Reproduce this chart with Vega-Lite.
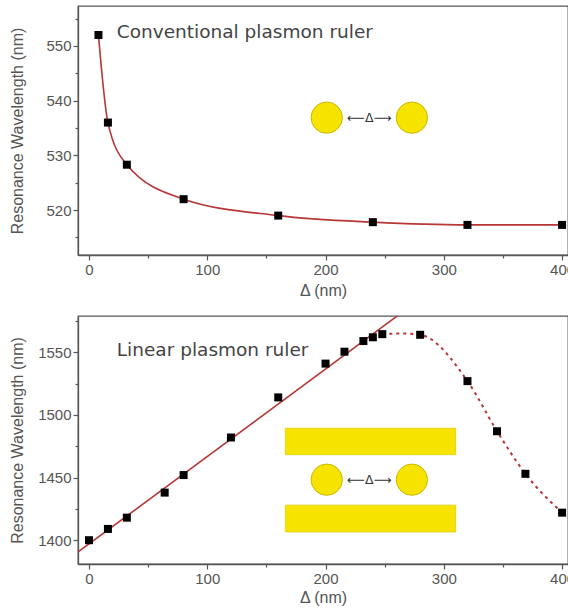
{
  "$schema": "https://vega.github.io/schema/vega-lite/v6.json",
  "padding": {"left": 8, "top": 5, "right": 0, "bottom": 0},
  "spacing": 14,
  "config": {
    "view": {"stroke": "#555", "strokeWidth": 1.3},
    "axis": {
      "labelFont": "Liberation Sans", "labelFontSize": 15, "labelColor": "#555",
      "titleFont": "Liberation Sans", "titleFontSize": 16, "titleColor": "#555", "titleFontWeight": "normal",
      "domainColor": "#555", "domainWidth": 1.3, "tickColor": "#555", "tickWidth": 1.2,
      "grid": false, "labelPadding": 2, "labelOverlap": false, "format": "d", "tickCount": 30
    }
  },
  "datasets": {
    "top": [
      {"d": 8, "w": 552}, {"d": 16, "w": 536}, {"d": 32, "w": 528.3}, {"d": 80, "w": 522},
      {"d": 160, "w": 519}, {"d": 240, "w": 517.8}, {"d": 320, "w": 517.3}, {"d": 400, "w": 517.3}
    ],
    "bottom": [
      {"d": 0, "w": 1400}, {"d": 16, "w": 1409}, {"d": 32, "w": 1418}, {"d": 64, "w": 1438},
      {"d": 80, "w": 1452}, {"d": 120, "w": 1482}, {"d": 160, "w": 1514}, {"d": 200, "w": 1541},
      {"d": 216, "w": 1550.5}, {"d": 232, "w": 1559}, {"d": 240, "w": 1562}, {"d": 248, "w": 1564.5},
      {"d": 280, "w": 1564}, {"d": 320, "w": 1527}, {"d": 345, "w": 1487}, {"d": 369, "w": 1453},
      {"d": 400, "w": 1422}
    ],
    "linfit": [{"d": -10, "w": 1390}, {"d": 262, "w": 1580}],
    "dashfit": [
      {"d": 248, "w": 1564.5}, {"d": 265, "w": 1565}, {"d": 280, "w": 1564}, {"d": 320, "w": 1527},
      {"d": 345, "w": 1487}, {"d": 369, "w": 1453}, {"d": 400, "w": 1422}
    ],
    "circTop": [{"d": 201, "w": 536.9}, {"d": 273, "w": 536.9}],
    "circBot": [{"d": 201, "w": 1448.3}, {"d": 273, "w": 1448.3}],
    "rects": [{"x1": 166, "x2": 310, "y1": 1468.3, "y2": 1489.4}, {"x1": 166, "x2": 310, "y1": 1406.6, "y2": 1428}]
  },
  "vconcat": [
    {
      "width": 490, "height": 249,
      "layer": [
        {
          "data": {"name": "top"},
          "mark": {"type": "line", "interpolate": "monotone", "color": "#b83636", "strokeWidth": 1.6, "clip": true},
          "encoding": {
            "x": {"field": "d", "type": "quantitative", "scale": {"domain": [-9.3, 405], "nice": false, "zero": false},
              "axis": {"title": "Δ (nm)", "values": [0, 50, 100, 150, 200, 250, 300, 350, 400],
                "labelExpr": "datum.value % 100 === 0 ? datum.label : ''",
                "tickSize": {"condition": {"test": "datum.value % 100 === 0", "value": 5}, "value": 3}, "titlePadding": 5}},
            "y": {"field": "w", "type": "quantitative", "scale": {"domain": [511.8, 557.3], "nice": false, "zero": false},
              "axis": {"title": "Resonance Wavelength (nm)", "values": [515, 520, 525, 530, 535, 540, 545, 550, 555],
                "labelExpr": "datum.value % 10 === 0 ? datum.label : ''",
                "tickSize": {"condition": {"test": "datum.value % 10 === 0", "value": 5}, "value": 3}, "titlePadding": 20}}
          }
        },
        {
          "data": {"name": "top"},
          "mark": {"type": "point", "shape": "square", "filled": true, "color": "#000", "size": 64, "opacity": 1},
          "encoding": {"x": {"field": "d", "type": "quantitative"}, "y": {"field": "w", "type": "quantitative"}}
        },
        {
          "data": {"name": "circTop"},
          "mark": {"type": "point", "shape": "circle", "filled": true, "fill": "#f6e400", "stroke": "#c9b800", "strokeWidth": 1, "size": 980, "opacity": 1},
          "encoding": {"x": {"field": "d", "type": "quantitative"}, "y": {"field": "w", "type": "quantitative"}}
        },
        {
          "data": {"values": [{"d": 237, "w": 536.9, "t": "⟵Δ⟶"}]},
          "mark": {"type": "text", "font": "DejaVu Sans", "fontSize": 12.5, "color": "#333"},
          "encoding": {"x": {"field": "d", "type": "quantitative"}, "y": {"field": "w", "type": "quantitative"}, "text": {"field": "t"}}
        },
        {
          "data": {"values": [{"d": 23.5, "w": 552.6, "t": "Conventional plasmon ruler"}]},
          "mark": {"type": "text", "font": "DejaVu Sans", "fontSize": 18.5, "color": "#444", "align": "left", "baseline": "middle"},
          "encoding": {"x": {"field": "d", "type": "quantitative"}, "y": {"field": "w", "type": "quantitative"}, "text": {"field": "t"}}
        }
      ]
    },
    {
      "width": 490, "height": 248,
      "layer": [
        {
          "data": {"name": "rects"},
          "mark": {"type": "rect", "fill": "#f6e400", "stroke": "#e0cf00", "strokeWidth": 0.8},
          "encoding": {
            "x": {"field": "x1", "type": "quantitative", "scale": {"domain": [-9.3, 405], "nice": false, "zero": false},
              "axis": {"title": "Δ (nm)", "values": [0, 50, 100, 150, 200, 250, 300, 350, 400],
                "labelExpr": "datum.value % 100 === 0 ? datum.label : ''",
                "tickSize": {"condition": {"test": "datum.value % 100 === 0", "value": 5}, "value": 3}, "titlePadding": 3}},
            "x2": {"field": "x2"},
            "y": {"field": "y1", "type": "quantitative", "scale": {"domain": [1381, 1579], "nice": false, "zero": false},
              "axis": {"title": "Resonance Wavelength (nm)", "values": [1400, 1425, 1450, 1475, 1500, 1525, 1550, 1575],
                "labelExpr": "datum.value % 50 === 0 ? datum.label : ''",
                "tickSize": {"condition": {"test": "datum.value % 50 === 0", "value": 5}, "value": 3}, "titlePadding": 12}},
            "y2": {"field": "y2"}
          }
        },
        {
          "data": {"name": "linfit"},
          "mark": {"type": "line", "color": "#b83636", "strokeWidth": 1.6, "clip": true},
          "encoding": {"x": {"field": "d", "type": "quantitative"}, "y": {"field": "w", "type": "quantitative"}}
        },
        {
          "data": {"name": "dashfit"},
          "mark": {"type": "line", "interpolate": "monotone", "color": "#b83636", "strokeWidth": 2, "strokeDash": [3, 4], "clip": true},
          "encoding": {"x": {"field": "d", "type": "quantitative"}, "y": {"field": "w", "type": "quantitative"}}
        },
        {
          "data": {"name": "bottom"},
          "mark": {"type": "point", "shape": "square", "filled": true, "color": "#000", "size": 64, "opacity": 1},
          "encoding": {"x": {"field": "d", "type": "quantitative"}, "y": {"field": "w", "type": "quantitative"}}
        },
        {
          "data": {"name": "circBot"},
          "mark": {"type": "point", "shape": "circle", "filled": true, "fill": "#f6e400", "stroke": "#c9b800", "strokeWidth": 1, "size": 980, "opacity": 1},
          "encoding": {"x": {"field": "d", "type": "quantitative"}, "y": {"field": "w", "type": "quantitative"}}
        },
        {
          "data": {"values": [{"d": 237, "w": 1448.3, "t": "⟵Δ⟶"}]},
          "mark": {"type": "text", "font": "DejaVu Sans", "fontSize": 12.5, "color": "#333"},
          "encoding": {"x": {"field": "d", "type": "quantitative"}, "y": {"field": "w", "type": "quantitative"}, "text": {"field": "t"}}
        },
        {
          "data": {"values": [{"d": 23.5, "w": 1551.8, "t": "Linear plasmon ruler"}]},
          "mark": {"type": "text", "font": "DejaVu Sans", "fontSize": 18.5, "color": "#444", "align": "left", "baseline": "middle"},
          "encoding": {"x": {"field": "d", "type": "quantitative"}, "y": {"field": "w", "type": "quantitative"}, "text": {"field": "t"}}
        }
      ]
    }
  ]
}
